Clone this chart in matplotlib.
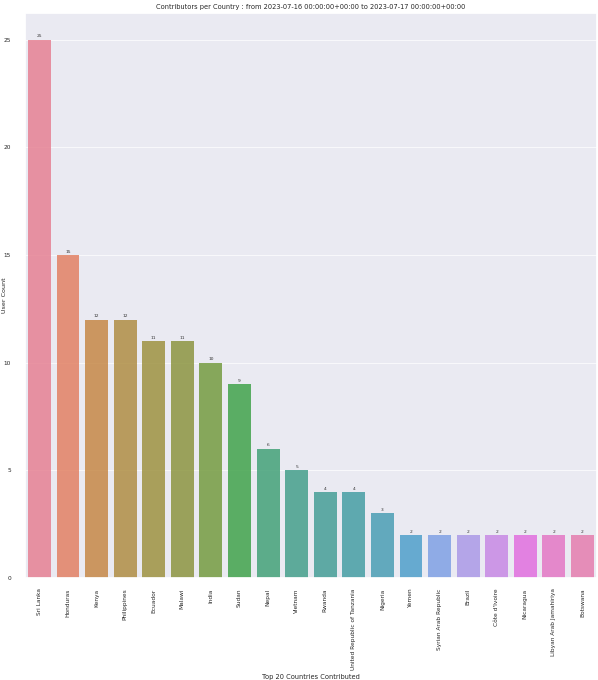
import matplotlib
matplotlib.use("Agg")
import matplotlib.pyplot as plt
import seaborn as sns

countries = ["Sri Lanka", "Honduras", "Kenya", "Philippines", "Ecuador", "Malawi",
             "India", "Sudan", "Nepal", "Vietnam", "Rwanda",
             "United Republic of Tanzania", "Nigeria", "Yemen",
             "Syrian Arab Republic", "Brazil", "Côte d'Ivoire", "Nicaragua",
             "Libyan Arab Jamahiriya", "Botswana"]
counts = [25, 15, 12, 12, 11, 11, 10, 9, 6, 5, 4, 4, 3, 2, 2, 2, 2, 2, 2, 2]

sns.set_theme(style="darkgrid")
plt.rcParams['font.family'] = ['DejaVu Sans']

fig = plt.figure(figsize=(5.98, 6.8), dpi=100)
ax = fig.add_axes([0.042, 0.15, 0.956, 0.831])

pal = [sns.desaturate(c, 0.75) for c in sns.husl_palette(len(countries))]
bars = ax.bar(countries, counts, color=pal, width=0.8, alpha=0.85, linewidth=0)
ax.set_xlim(-0.5, len(countries) - 0.5)
ax.set_ylim(0, 26.25)
ax.bar_label(bars, labels=[str(c) for c in counts], fontsize=3.2, padding=1, color='#333333')

ax.grid(axis='x', visible=False)
ax.grid(axis='y', linewidth=0.5, color='white')

ax.set_title("Contributors per Country : from 2023-07-16 00:00:00+00:00 to 2023-07-17 00:00:00+00:00",
             fontsize=4.8, pad=3)
ax.set_xlabel("Top 20 Countries Contributed", fontsize=4.8, labelpad=3)
ax.set_ylabel("User Count", fontsize=4.6)
ax.yaxis.set_label_coords(-0.032, 0.5)
ax.tick_params(axis='x', labelrotation=90, labelsize=4.2, pad=1.5)
ax.tick_params(axis='y', labelsize=4.2, pad=4)
ax.set_yticks([0, 5, 10, 15, 20, 25])

fig.savefig("out.png", dpi=100)
